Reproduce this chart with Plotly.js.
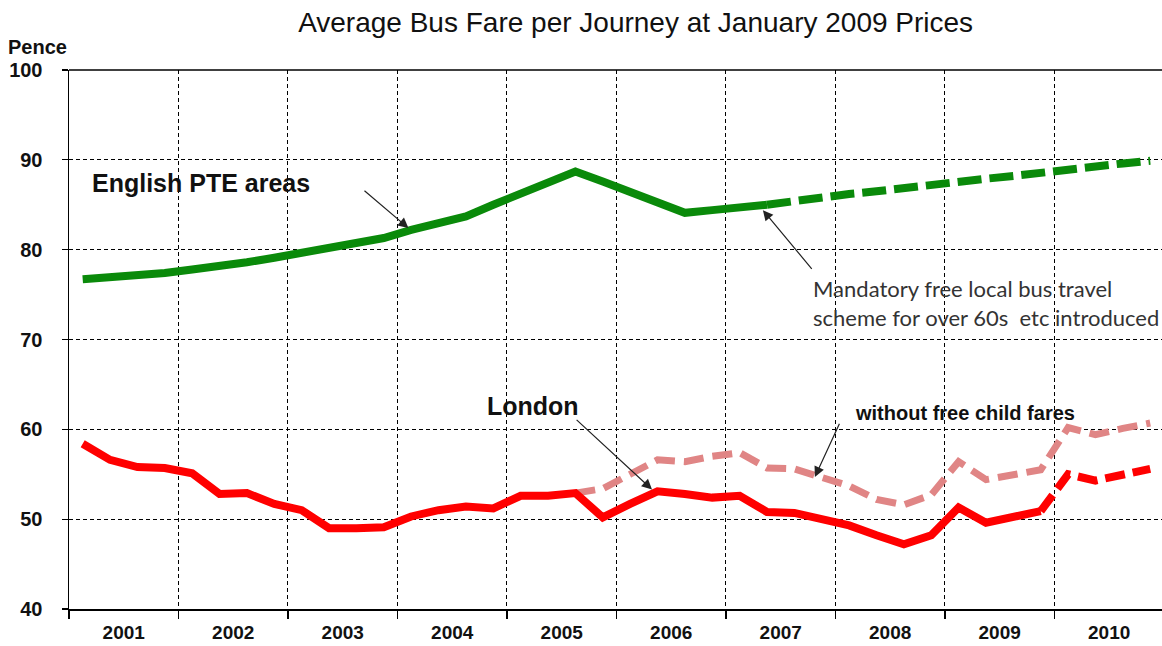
<!DOCTYPE html>
<html>
<head>
<meta charset="utf-8">
<script src="https://cdn.plot.ly/plotly-3.0.1.min.js"></script>
<style>
  html, body { margin: 0; padding: 0; background: #ffffff; }
  #chart { width: 1162px; height: 646px; }
</style>
</head>
<body>
<div id="chart"></div>
<script>
// ---- data (quarterly points, 4 per year) ----
const years = ['2001','2002','2003','2004','2005','2006','2007','2008','2009','2010'];
const quartersPerYear = 4;

// English PTE areas (pence, Jan 2009 prices); solid up to index 25, dashed after
const pteAreas = [
  76.7, 76.9, 77.15, 77.4, 77.8, 78.1, 78.6, 79.1,
  79.6, 80.1, 80.6, 81.3, 82.2, 82.9, 83.7, 85.0,
  86.3, 87.5, 88.7, 87.6, 86.4, 85.3, 84.1, 84.4,
  84.7, 85.0, 85.45, 85.8, 86.2, 86.5, 86.9, 87.2,
  87.5, 87.9, 88.2, 88.6, 88.9, 89.2, 89.6, 89.9
];
const pteDashedFrom = 25;

// London; solid up to index 35, dashed after
const london = [
  58.4, 56.6, 55.8, 55.7, 55.1, 52.8, 52.9, 51.7,
  51.0, 49.0, 49.0, 49.1, 50.3, 51.0, 51.4, 51.2,
  52.6, 52.6, 52.9, 50.2, 51.7, 53.1, 52.8, 52.4,
  52.6, 50.8, 50.7, 50.0, 49.3, 48.2, 47.2, 48.2,
  51.3, 49.6, 50.3, 50.9, 55.0, 54.3, 54.9, 55.6
];
const londonDashedFrom = 35;

// London without free child fares
const londonNoFreeChild = [
  null, null, null, null, null, null, null, null,
  null, null, null, null, null, null, null, null,
  null, null, 52.9, 53.4, 55.0, 56.6, 56.4, 57.0,
  57.4, 55.7, 55.6, 54.6, 53.7, 52.2, 51.6, 52.7,
  56.4, 54.4, 54.9, 55.5, 60.2, 59.4, 60.1, 60.7
];

// ---- helpers ----
const xIdx = pteAreas.map((_, i) => i);
const yearCentres = years.map((_, k) => k * quartersPerYear + (quartersPerYear - 1) / 2);
function part(arr, from, to) { return arr.map((v, i) => (i >= from && i <= to) ? v : null); }

const FONT = 'Liberation Sans, Arial, sans-serif';
const green = '#0a8a0a';
const red = '#ff0000';
const pink = '#e08585';

const traces = [
  { x: xIdx, y: londonNoFreeChild, mode: 'lines', name: 'without free child fares',
    line: { color: pink, width: 7, dash: '20px,9px' }, connectgaps: false },
  { x: xIdx, y: part(london, 0, londonDashedFrom), mode: 'lines', name: 'London',
    line: { color: red, width: 8 } },
  { x: xIdx, y: part(london, londonDashedFrom, london.length - 1), mode: 'lines', name: 'London (dashed)',
    line: { color: red, width: 8, dash: '20px,8px' } },
  { x: xIdx, y: part(pteAreas, 0, pteDashedFrom), mode: 'lines', name: 'English PTE areas',
    line: { color: green, width: 8 } },
  { x: xIdx, y: part(pteAreas, pteDashedFrom, pteAreas.length - 1), mode: 'lines', name: 'English PTE areas (dashed)',
    line: { color: green, width: 8, dash: '24px,8px' } }
];

const arrowCommon = { showarrow: true, arrowhead: 2, arrowsize: 1.7, arrowwidth: 1.2,
  arrowcolor: '#222', axref: 'x', ayref: 'y', xref: 'x', yref: 'y', text: '' };

const layout = {
  width: 1162, height: 646,
  margin: { l: 69, r: 0, t: 69.5, b: 37, pad: 0 },
  paper_bgcolor: '#ffffff', plot_bgcolor: '#ffffff',
  showlegend: false,
  title: { text: 'Average Bus Fare per Journey at January 2009 Prices',
    font: { family: FONT, size: 28, color: '#111' },
    x: 0.547, xref: 'container', xanchor: 'center', y: 0.966, yref: 'container', yanchor: 'middle' },
  xaxis: {
    range: [-0.5, 39.43], fixedrange: true,
    tickmode: 'array', tickvals: yearCentres, ticktext: years,
    ticks: '', showgrid: false, zeroline: false,
    showline: true, linecolor: '#000', linewidth: 1.5,
    tickfont: { family: FONT, size: 19, color: '#111', weight: 'bold' },
    ticklabelstandoff: 6,
    minor: { tick0: 3.5, dtick: 4, ticks: 'outside', ticklen: 8, tickcolor: '#000', tickwidth: 1.2,
      showgrid: true, gridcolor: '#000', gridwidth: 1, griddash: '4px,3px' }
  },
  yaxis: {
    range: [40, 100], dtick: 10, fixedrange: true,
    ticks: 'outside', ticklen: 6, tickcolor: '#000', tickwidth: 1.2,
    showgrid: true, gridcolor: '#000', gridwidth: 1, griddash: '4px,3px',
    zeroline: false, showline: true, linecolor: '#000', linewidth: 1.5,
    tickfont: { family: FONT, size: 20, color: '#111', weight: 'bold' },
    ticklabelstandoff: 15
  },
  shapes: [
    { type: 'line', xref: 'paper', yref: 'paper', x0: 0, x1: 1, y0: 1, y1: 1,
      line: { color: '#000', width: 1.5 } }
  ],
  annotations: [
    { text: 'Pence', xref: 'paper', yref: 'paper', x: -0.0285, y: 1.042, xanchor: 'center', yanchor: 'middle',
      showarrow: false, font: { family: FONT, size: 20, color: '#111', weight: 'bold' } },
    { text: 'English PTE areas', xref: 'x', yref: 'y', x: 4.32, y: 87.4, xanchor: 'center', yanchor: 'middle',
      showarrow: false, font: { family: FONT, size: 25, color: '#111', weight: 'bold' } },
    Object.assign({}, arrowCommon, { x: 11.9, y: 82.4, ax: 10.24, ay: 86.7 }),
    { text: 'Mandatory free local bus travel', xref: 'x', yref: 'y', x: 26.6, y: 75.7, xanchor: 'left', yanchor: 'middle',
      showarrow: false, font: { family: 'Lato, sans-serif', size: 22, color: '#333' } },
    { text: 'scheme for over 60s  etc introduced', xref: 'x', yref: 'y', x: 26.6, y: 72.4, xanchor: 'left', yanchor: 'middle',
      showarrow: false, font: { family: 'Lato, sans-serif', size: 22, color: '#333' } },
    Object.assign({}, arrowCommon, { x: 24.85, y: 84.4, ax: 26.68, ay: 77.7 }),
    { text: 'London', xref: 'x', yref: 'y', x: 16.46, y: 62.6, xanchor: 'center', yanchor: 'middle',
      showarrow: false, font: { family: FONT, size: 25, color: '#111', weight: 'bold' } },
    Object.assign({}, arrowCommon, { x: 20.8, y: 53.3, ax: 17.99, ay: 61.2 }),
    { text: 'without free child fares', xref: 'x', yref: 'y', x: 32.24, y: 61.8, xanchor: 'center', yanchor: 'middle',
      showarrow: false, font: { family: FONT, size: 20, color: '#111', weight: 'bold' } },
    Object.assign({}, arrowCommon, { x: 26.75, y: 54.7, ax: 27.67, ay: 60.8 })
  ]
};

Plotly.newPlot('chart', traces, layout, { displayModeBar: false, staticPlot: true });
</script>
</body>
</html>
